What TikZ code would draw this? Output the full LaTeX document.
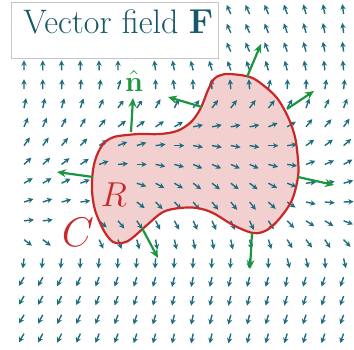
\documentclass[tikz,border=0pt]{standalone}
\usetikzlibrary{arrows.meta}

\definecolor{fieldteal}{RGB}{30,108,128}
\definecolor{titleteal}{RGB}{22,88,104}
\definecolor{normalgreen}{RGB}{28,150,62}
\definecolor{curvered}{RGB}{200,40,40}
\definecolor{regionpink}{RGB}{243,208,208}

% field profile, one entry per grid column
\newcommand{\zeroRow}{{11.5,11.5,11.2,10.6,9.3,8.3,8.0,7.3,7.0,6.3,6.3,6.3,6.3,7.0,7.3,9.4,9.8,10.2}}
\newcommand{\upWidth}{{7.5,7.5,7.5,7,6,5.5,5,3.5,3,2.5,2.5,2.5,2.5,4,3.8,6,7,7}}
\newcommand{\downWidth}{{1.2,1.2,1.6,2.5,3.7,4.8,4.8,5.3,5.8,6.5,6.5,6.5,6.5,6.2,7.2,4.4,3.5,3.5}}

% outline of the region R
\newcommand{\blobpath}{plot[smooth cycle, tension=0.55] coordinates {
  (230,74) (250,77) (263,85) (277,98) (288,117) (295,137) (298,160)
  (298,177) (292,200) (280,218) (267,230) (253,233) (233,225) (213,213)
  (197,208) (180,208) (163,212) (147,225) (131,239) (122,243) (113,242)
  (104,231) (95,210) (92,190) (93,170) (97,155) (104,143) (114,137)
  (127,135) (140,134) (160,134) (177,131) (190,123) (198,113) (203,103)
  (208,90) (214,79) (221,75)}}

\begin{document}
\begin{tikzpicture}[x=0.5pt, y=-0.5pt,
  fieldarrow/.style={fieldteal, line width=0.7pt, -{Stealth[length=2.7pt, width=2.7pt]}},
  normalarrow/.style={normalgreen, line width=1.1pt, -{Stealth[length=4.5pt, width=4pt]}},
  boundary/.style={curvered, line width=1.1pt},
  regionlabel/.style={text=curvered, inner sep=2pt},
  titlebox/.style={fill=white, draw=black!22, line width=0.4pt}]

  \useasboundingbox (0,0) rectangle (354,349);

  % Region R
  \fill[regionpink] \blobpath;

  % Vector field F on an 18 x 18 grid
  \foreach \i in {0,...,17} {
    \foreach \j in {0,...,17} {
      \pgfmathsetmacro{\jz}{\zeroRow[\i]}
      \pgfmathsetmacro{\wu}{\upWidth[\i]}
      \pgfmathsetmacro{\wd}{\downWidth[\i]}
      \pgfmathsetmacro{\D}{\jz-\j}
      \pgfmathsetmacro{\base}{\D>=0 ? 90*min(1,\D/\wu) : -90*min(1,abs(\D)/\wd)}
      \pgfmathsetmacro{\amp}{\i<=9 ? 30-2*\i : 12+(\i-9)}
      \pgfmathsetmacro{\ang}{\base + 25*exp(-(\i-11.5)*(\i-11.5)/25)*max(0,min(1,(6-\j)/4))
                             - \amp*max(0,min(1,(\j-12.7)/1.3))}
      \draw[fieldarrow] ({24+18.8*\i},{14+18.8*\j}) -- ++(\ang:5pt);
    }
  }

  % Labels of region and curve
  \node[regionlabel, fill=white, font=\fontsize{20.74}{25}\selectfont] (clabel) at (78,232) {$C$};
  \node[regionlabel, fill=regionpink, font=\fontsize{17.28}{21}\selectfont] (rlabel) at (114,195) {$R$};

  % Boundary curve C
  \draw[boundary] \blobpath;

  % Unit normal label
  \node[text=normalgreen, fill=white, inner sep=2pt, minimum height=20pt,
        font=\fontsize{14.4}{17}\selectfont] (nhat) at (134,81) {$\hat{\mathbf{n}}$};

  % Outward normals on C
  \coordinate (foot1) at (131,132); \coordinate (tip1) at (133,98);
  \coordinate (foot2) at (202,107); \coordinate (tip2) at (168,97);
  \coordinate (foot3) at (247,77);  \coordinate (tip3) at (261,44);
  \coordinate (foot4) at (287,109); \coordinate (tip4) at (314,91);
  \coordinate (foot5) at (298,177); \coordinate (tip5) at (334,185);
  \coordinate (foot6) at (252,233); \coordinate (tip6) at (250,269);
  \coordinate (foot7) at (142,228); \coordinate (tip7) at (158,258);
  \coordinate (foot8) at (93,177);  \coordinate (tip8) at (57,172);
  \foreach \k in {1,...,8}
    \draw[normalarrow] (foot\k) -- (tip\k);

  % Title box
  \draw[titlebox] (11,2) rectangle (218,58);
  \node[anchor=base west, text=titleteal, inner sep=0pt,
        font=\fontsize{17}{20}\selectfont] (title) at (23,33) {Vector field $\mathbf{F}$};

\end{tikzpicture}
\end{document}
